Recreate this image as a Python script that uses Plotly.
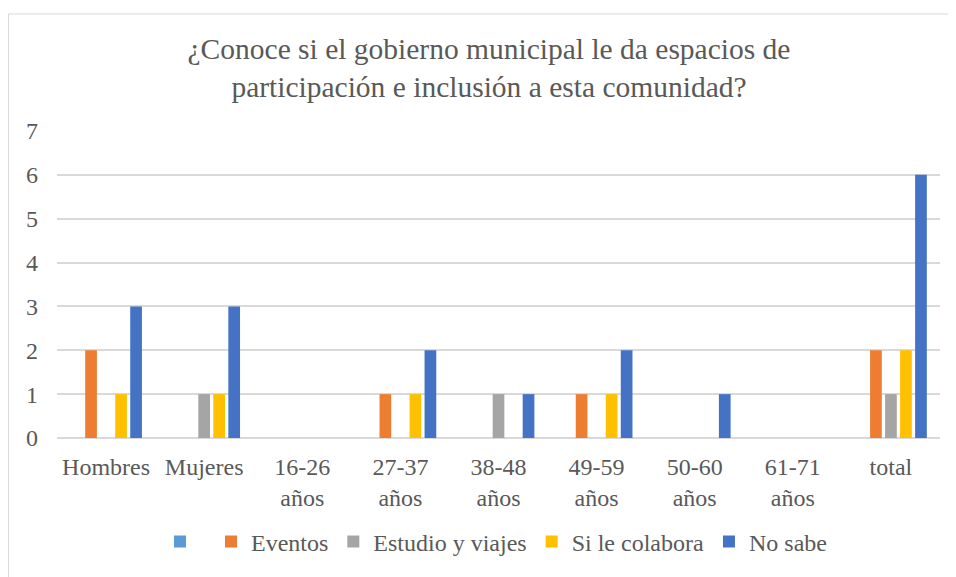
import plotly.graph_objects as go

categories = ["Hombres", "Mujeres", "16-26<br>años", "27-37<br>años", "38-48<br>años",
              "49-59<br>años", "50-60<br>años", "61-71<br>años", "total"]
series_names = [" ", "Eventos", "Estudio y viajes", "Si le colabora", "No sabe"]
blank = [0, 0, 0, 0, 0, 0, 0, 0, 0]
eventos = [2, 0, 0, 1, 0, 1, 0, 0, 2]
estudio = [0, 1, 0, 0, 1, 0, 0, 0, 1]
colabora = [1, 1, 0, 1, 0, 1, 0, 0, 2]
no_sabe = [3, 3, 0, 2, 1, 2, 1, 0, 6]
colors = ["#5B9BD5", "#ED7D31", "#A5A5A5", "#FFC000", "#4472C4"]
title_text = "¿Conoce si el gobierno municipal le da espacios de<br>participación e inclusión a esta comunidad?"

FONT = "Liberation Serif"
TXT = "#595959"

fig = go.Figure()
for name, vals, col in zip(series_names, [blank, eventos, estudio, colabora, no_sabe], colors):
    fig.add_trace(go.Bar(x=categories, y=vals, name=name,
                         marker=dict(color=col, line=dict(width=0))))

OFF = 8  # page body margin
W, H = 956 - OFF, 577 - OFF
L, R, T, B = 57 - OFF, 16, 131 - OFF, 130
pw, ph = W - L - R, H - T - B

def px_x(x):
    return (x - OFF - L) / pw

def px_y(y):
    return (H - B - (y - OFF)) / ph

fig.update_layout(
    width=W, height=H,
    margin=dict(l=L, r=R, t=T, b=B),
    paper_bgcolor="white", plot_bgcolor="white",
    barmode="group", bargap=0.235, bargroupgap=0.22,
    font=dict(family=FONT, color=TXT, size=24),
    title=dict(text=title_text, x=(489 - OFF) / W, xanchor="center", xref="container",
               y=1 - (59 - OFF) / H, yanchor="middle", yref="container",
               font=dict(size=29.5, color=TXT, family=FONT)),
    showlegend=True,
    legend=dict(orientation="h", x=px_x(496), xanchor="center", y=px_y(554), yanchor="middle",
                font=dict(size=24, color=TXT, family=FONT), itemwidth=30,
                traceorder="normal", bgcolor="rgba(0,0,0,0)"),
    xaxis=dict(showgrid=False, showline=False, tickfont=dict(size=24, color=TXT, family=FONT),
               ticks="", zeroline=False, ticklabelstandoff=12),
    yaxis=dict(range=[0, 7], dtick=1, showgrid=True, gridcolor="#D9D9D9", gridwidth=1.5,
               zeroline=True, zerolinecolor="#D9D9D9", zerolinewidth=1.5,
               showline=False, ticks="", ticklabelstandoff=18,
               tickfont=dict(size=24, color=TXT, family=FONT)),
    shapes=[dict(type="rect", xref="paper", yref="paper",
                 x0=px_x(8.5), x1=px_x(990), y0=px_y(620), y1=px_y(10.5),
                 line=dict(color="#D9D9D9", width=1), fillcolor="rgba(0,0,0,0)", layer="below")],
)

fig.write_html("out.html")
